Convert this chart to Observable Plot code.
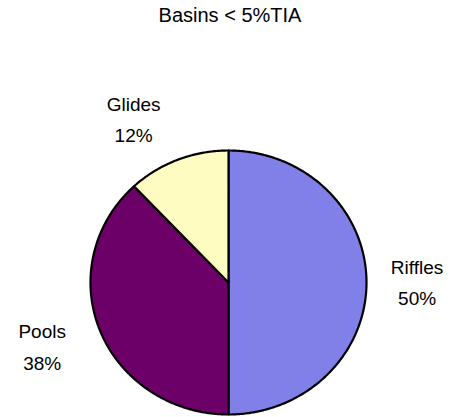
<!DOCTYPE html>
<html>
<head>
<meta charset="utf-8">
<script src="https://cdn.jsdelivr.net/npm/d3@7"></script>
<script src="https://cdn.jsdelivr.net/npm/@observablehq/plot@0.6"></script>
<style>
  body { margin: 0; background: #fff; }
  #chart { width: 456px; font-family: "Liberation Sans", Arial, sans-serif; }
  #title { height: 30px; line-height: 30px; font-size: 20px; text-align: center; padding-left: 4px; color: #000; }
  svg { display: block; }
</style>
</head>
<body>
<div id="chart">
  <div id="title"></div>
</div>
<script>
// Habitat composition for basins under 5% total impervious area
const chartTitle = "Basins < 5%TIA";
const categories = ["Riffles", "Pools", "Glides"];
const shares = [50, 38, 12];
const sliceColors = ["#8080E8", "#6C0068", "#FFFCC2"];

document.getElementById("title").textContent = chartTitle;

const FONT = '"Liberation Sans", Arial, sans-serif';
const FONT_SIZE = 19;
const RX = 138; // horizontal radius in px (x domain [-1, 1] spans 276 px)

// Angles from d3.pie run clockwise from 12 o'clock; start with Riffles at the top
const arcs = d3.pie().sort(null).value(d => d)(shares);

// Outline of each slice as a closed polygon in unit-circle coordinates
const outline = [];
arcs.forEach((a, i) => {
  const name = categories[i];
  outline.push({name, x: 0, y: 0});
  const n = Math.max(2, Math.ceil((a.endAngle - a.startAngle) / (Math.PI / 360)));
  for (let k = 0; k <= n; ++k) {
    const t = a.startAngle + (a.endAngle - a.startAngle) * k / n;
    outline.push({name, x: Math.sin(t), y: Math.cos(t)});
  }
  outline.push({name, x: 0, y: 0});
});

// Label placement: out along the mid-angle, pushed sideways by half the label width
const ctx = document.createElement("canvas").getContext("2d");
ctx.font = `${FONT_SIZE}px ${FONT}`;
const labels = arcs.map((a, i) => {
  const mid = (a.startAngle + a.endAngle) / 2;
  const text = `${categories[i]}\n${shares[i]}%`;
  const w = Math.max(...text.split("\n").map(s => ctx.measureText(s).width));
  const sx = Math.sin(mid), cy = Math.cos(mid);
  return {
    text,
    x: sx * 1.22 + Math.sign(sx) * (w / 2) / RX,
    y: cy * 1.33
  };
});

const plot = Plot.plot({
  width: 456,
  height: 387,
  marginTop: 120,
  marginBottom: 3,
  marginLeft: 90,
  marginRight: 90,
  x: {axis: null, domain: [-1, 1]},
  y: {axis: null, domain: [-1, 1]},
  color: {domain: categories, range: sliceColors},
  style: {fontFamily: FONT, background: "#fff", overflow: "visible"},
  marks: [
    Plot.line(outline, {
      x: "x", y: "y", z: "name",
      fill: "name",
      stroke: "#000",
      strokeWidth: 2.2,
      strokeLinejoin: "round"
    }),
    Plot.text(labels, {
      x: "x", y: "y", text: "text",
      fontSize: FONT_SIZE,
      lineHeight: 1.65,
      lineAnchor: "middle",
      textAnchor: "middle",
      dx: -6,
      dy: -3,
      fill: "#000"
    })
  ]
});

document.getElementById("chart").appendChild(plot);
</script>
</body>
</html>
